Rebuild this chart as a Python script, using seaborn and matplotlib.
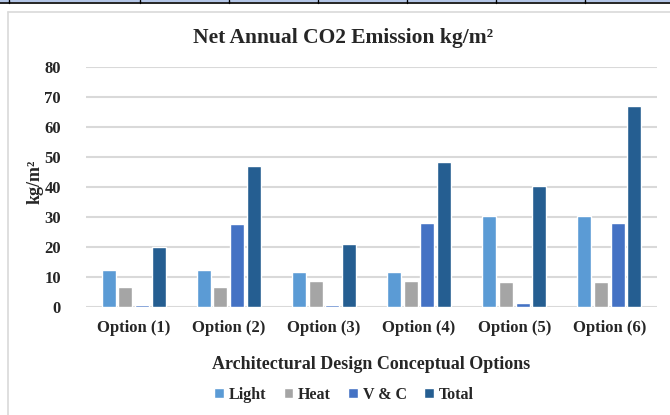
import matplotlib
matplotlib.use("Agg")
import matplotlib.pyplot as plt
import seaborn as sns
import pandas as pd
from matplotlib.patches import Rectangle
from matplotlib.lines import Line2D

categories = ["Option (1)", "Option (2)", "Option (3)", "Option (4)", "Option (5)", "Option (6)"]
series_names = ["Light", "Heat", "V & C", "Total"]
light = [12.2, 12.2, 11.7, 11.6, 30.3, 30.3]
heat = [6.7, 6.7, 8.6, 8.6, 8.3, 8.3]
vc = [0.6, 27.7, 0.6, 27.9, 1.5, 28.1]
total = [19.9, 47.1, 20.9, 48.3, 40.5, 67.1]
yticks = [0, 10, 20, 30, 40, 50, 60, 70, 80]
colors = ["#5B9BD5", "#A5A5A5", "#4472C4", "#255E91"]

rows = []
for name, vals in zip(series_names, [light, heat, vc, total]):
    for c, v in zip(categories, vals):
        rows.append({"Option": c, "Series": name, "Value": v})
df = pd.DataFrame(rows)

sns.set_theme(style="white")
plt.rcParams["font.family"] = ["Liberation Serif", "DejaVu Serif"]
plt.rcParams["font.weight"] = "bold"

W, H = 670, 415
fig = plt.figure(figsize=(6.7, 4.15), dpi=100)
ax = fig.add_axes([86 / W, 1 - 307 / H, (657 - 86) / W, (307 - 67) / H])

sns.barplot(data=df, x="Option", y="Value", hue="Series", order=categories,
            hue_order=series_names, palette=colors, width=0.7, gap=0.16,
            saturation=1, ax=ax, legend=True, errorbar=None)

ax.set_ylim(0, 80)
ax.set_yticks(yticks)
ax.set_yticklabels([str(t) for t in yticks], fontsize=12, fontweight="bold")
ax.set_xticks(range(len(categories)))
ax.set_xticklabels(categories, fontsize=12, fontweight="bold")
ax.tick_params(axis="x", length=0, pad=9)
ax.tick_params(axis="y", length=0, pad=18)
ax.set_axisbelow(True)
ax.yaxis.grid(True, color="#d9d9d9", linewidth=1.5)
ax.xaxis.grid(False)
for s in ax.spines.values():
    s.set_visible(False)

ax.set_xlabel("Architectural Design Conceptual Options", fontsize=13,
              fontweight="bold", labelpad=15)
ax.set_ylabel("kg/m²", fontsize=13, fontweight="bold")
ax.yaxis.set_label_coords((44 - 86) / (657 - 86), 0.52)

handles, labels = ax.get_legend_handles_labels()
ax.legend(handles, labels, loc="center", bbox_to_anchor=(344 / W, 1 - 395 / H),
          bbox_transform=fig.transFigure, ncol=4, frameon=False,
          prop={"family": "Liberation Serif", "weight": "bold", "size": 11.5},
          handlelength=0.6, handleheight=0.6, handletextpad=0.3,
          columnspacing=1.1)

fig.text(343 / W, 1 - 38 / H, "Net Annual CO2 Emission kg/m²",
         ha="center", va="center", fontsize=15.5, fontweight="bold")

# decorative frame pieces (document table above and chart box)
fig.add_artist(Rectangle((0, 1 - 2.5 / H), 1, 2.5 / H, transform=fig.transFigure,
                         facecolor="#b4c6e7", edgecolor="none"))
fig.add_artist(Line2D([0, 1], [1 - 3 / H, 1 - 3 / H], transform=fig.transFigure,
                      color="black", linewidth=1.2))
for xv in [9, 140, 229, 318, 407, 496, 585]:
    fig.add_artist(Line2D([xv / W, xv / W], [1 - 3 / H, 1], transform=fig.transFigure,
                          color="black", linewidth=1.0))
fig.add_artist(Line2D([8 / W, 1], [1 - 12 / H, 1 - 12 / H], transform=fig.transFigure,
                      color="#d9d9d9", linewidth=1.2))
fig.add_artist(Line2D([8 / W, 8 / W], [0, 1 - 12 / H], transform=fig.transFigure,
                      color="#d9d9d9", linewidth=1.2))

fig.savefig("out.png", dpi=100)
